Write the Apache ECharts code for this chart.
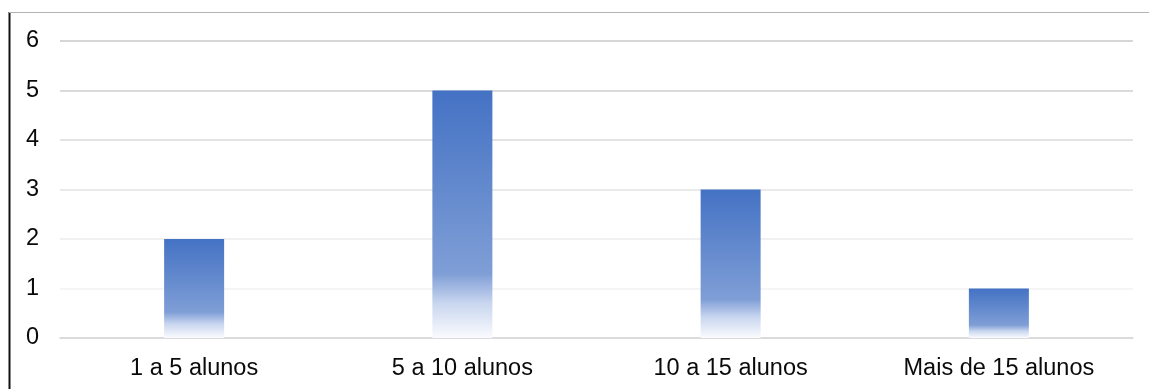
<!DOCTYPE html>
<html>
<head>
<meta charset="utf-8">
<script src="https://cdn.jsdelivr.net/npm/echarts@6/dist/echarts.min.js"></script>
<style>
html,body{margin:0;padding:0;background:#fff;}
#chart{width:1149px;height:389px;}
</style>
</head>
<body>
<div id="chart"></div>
<script>
const categories = ['1 a 5 alunos', '5 a 10 alunos', '10 a 15 alunos', 'Mais de 15 alunos'];
const values = [2, 5, 3, 1];
const yTicks = [0, 1, 2, 3, 4, 5, 6];

const chart = echarts.init(document.getElementById('chart'), null, {renderer: 'canvas'});
const font = '"Liberation Sans", Arial, sans-serif';
chart.setOption({
  animation: false,
  backgroundColor: '#ffffff',
  grid: {left: 60, right: 16, top: 41, bottom: 51, containLabel: false},
  graphic: [
    {type: 'line', shape: {x1: 9.5, y1: 12, x2: 9.5, y2: 389}, style: {stroke: '#111', lineWidth: 2}, z: 10},
    {type: 'line', shape: {x1: 9, y1: 12.5, x2: 1149, y2: 12.5}, style: {stroke: '#b3b3b3', lineWidth: 1}, z: 10}
  ],
  xAxis: {
    type: 'category',
    data: categories,
    axisLine: {show: true, lineStyle: {color: '#d9d9d9', width: 1.5}},
    axisTick: {show: false},
    axisLabel: {color: '#0a0a0a', fontFamily: font, fontSize: 23.5, margin: 19}
  },
  yAxis: {
    type: 'value',
    min: yTicks[0],
    max: yTicks[yTicks.length - 1],
    interval: 1,
    axisLine: {show: false},
    axisTick: {show: false},
    axisLabel: {color: '#0a0a0a', fontFamily: font, fontSize: 23.5, margin: 21, padding: [4, 0, 0, 0]},
    splitLine: {show: true, lineStyle: {color: ['#d9d9d9', '#f2f2f2', '#ececec', '#e3e3e3', '#dadada', '#cfcfcf', '#c8c8c8'], width: 1.5}}
  },
  series: [{
    type: 'bar',
    data: values,
    barWidth: 60,
    itemStyle: {
      color: new echarts.graphic.LinearGradient(0, 0, 0, 1, [
        {offset: 0, color: '#4472C4'},
        {offset: 0.74, color: '#7F9ED6'},
        {offset: 0.86, color: '#c9d6ef'},
        {offset: 1, color: '#fafbfe'}
      ])
    }
  }]
});
</script>
</body>
</html>
